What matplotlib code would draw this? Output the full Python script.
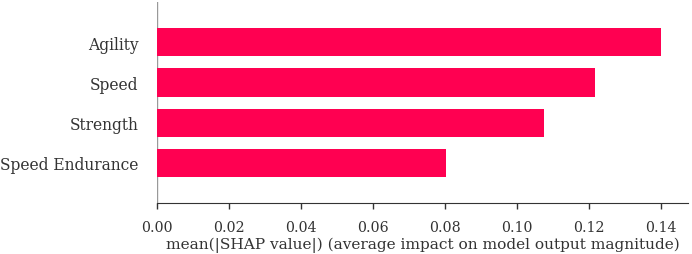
import matplotlib
matplotlib.use('Agg')
import matplotlib.pyplot as plt
import numpy as np

plt.rcParams['font.family'] = ['DejaVu Serif']

# mean |SHAP| per feature (top to bottom)
features = ["Agility", "Speed", "Strength", "Speed Endurance"]
mean_shap = [0.140, 0.1217, 0.1074, 0.0804]

axis_color = "#333333"

fig = plt.figure(figsize=(6.92, 2.55), dpi=100)
ax = fig.add_axes([0.227, 0.2, 0.767, 0.788])

# shap draws the lowest feature at y=0
y_pos = np.arange(len(features))[::-1]
ax.barh(y_pos, mean_shap, 0.7, align='center', color='#ff0051')
ax.axvline(x=0, color="#999999", zorder=-1, lw=1)

ax.set_yticks(y_pos)
ax.set_yticklabels(features, fontsize=11.2)
ax.set_ylim(-1, len(features))
ax.set_xlim(0, 0.1475)
ax.set_xticks(np.arange(0, 0.141, 0.02))

ax.xaxis.set_ticks_position('bottom')
ax.yaxis.set_ticks_position('none')
for s in ['right', 'top', 'left']:
    ax.spines[s].set_visible(False)
ax.spines['bottom'].set_color(axis_color)
ax.tick_params(color=axis_color, labelcolor=axis_color)
ax.tick_params('x', labelsize=10.2, length=4.3, width=1, pad=7.6)
ax.tick_params('y', pad=10)
ax.set_xlabel("mean(|SHAP value|) (average impact on model output magnitude)",
              fontsize=11.1, color=axis_color, labelpad=2.5)

fig.savefig("out.png", dpi=100)
